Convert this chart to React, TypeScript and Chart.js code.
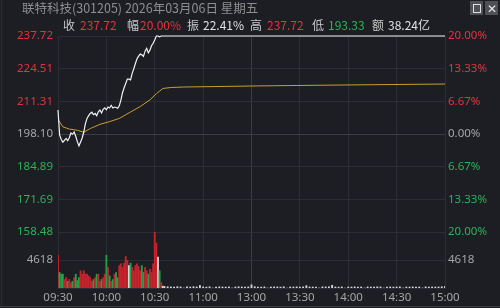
import React, { useEffect, useRef } from 'react';
import { Chart, registerables } from 'chart.js';

Chart.register(...registerables);

// ---------- data ----------
const timeLabels = ['09:30', '10:00', '10:30', '11:00', '13:00', '13:30', '14:00', '14:30', '15:00'];
const priceTicks = [237.72, 224.51, 211.31, 198.1, 184.89, 171.69, 158.48];
const pctTicks = [20, 13.33, 6.67, 0, -6.67, -13.33, -20];
const prevClose = 198.1;
const volTicks = [4618];
const volMax = 9236;

// minute prices 09:30 .. 10:35
const priceMinutes = [
  207.8, 197.7, 195.9, 194.8, 195.5, 196.3, 195.4, 196.6, 198.5, 198.0,
  198.9, 197.2, 195.0, 193.33, 194.9, 196.5, 198.9, 202.3, 204.4, 205.5,
  206.4, 206.9, 205.9, 206.4, 205.5, 207.1, 207.8, 206.6, 208.1, 208.7,
  207.9, 209.0, 208.6, 209.7, 208.6, 209.0, 208.8, 208.5, 209.5, 211.8,
  214.8, 216.8, 218.5, 220.3, 220.3, 220.0, 222.6, 224.5, 226.6, 228.5,
  229.6, 230.4, 230.1, 229.5, 231.6, 232.7, 230.9, 232.0, 233.8, 234.8,
  236.1, 237.72, 237.72, 237.4, 237.72, 237.72,
];
const closeMinute = 240;
const closePrice = 237.72;

const avgMinutes = [0, 3, 7, 12, 16, 20, 26, 32, 38, 45, 51, 57, 61, 65, 70, 78, 120, 160, 222, 240];
const avgPrices = [204.0, 201.0, 200.1, 199.6, 198.8, 200.3, 202.0, 203.1, 204.4, 207.0, 209.2, 211.9, 214.4, 216.5, 216.9, 217.1, 217.5, 217.8, 218.2, 218.3];

// minute volumes 09:30 .. 10:35
const volumes = [
  5400, 2560, 2300, 2280, 1400, 1700, 1100, 1400, 850, 1100,
  1700, 2280, 1250, 1700, 2850, 2280, 2850, 2280, 2280, 2000,
  1700, 1100, 1400, 1700, 2280, 2280, 1100, 1400, 1700, 2280,
  5400, 3400, 2000, 1100, 1400, 2280, 2560, 1700, 3700, 4000,
  3400, 4100, 5200, 4560, 3700, 4100, 3400, 2850, 3700, 4000,
  3550, 2850, 3700, 2560, 3400, 2850, 2280, 3100, 2560, 4000,
  9200, 7400, 5100, 2850, 900, 300,
];
// sealed at limit-up: sparse small volumes, every second minute from 10:36
const tailStart = 66;
const tailVolumes = [
  260, 200, 180, 150, 220, 170, 0, 190, 160, 210,
  180, 420, 170, 150, 200, 0, 170, 190, 160, 150,
  180, 0, 160, 200, 170, 150, 180, 520, 210, 170,
  150, 190, 0, 160, 180, 170, 150, 200, 0, 170,
  160, 190, 150, 180, 380, 170, 160, 150, 0, 190,
  170, 200, 450, 160, 150, 180, 0, 170, 160, 190,
  150, 170, 0, 180, 160, 150, 190, 170, 0, 160,
  180, 150, 170, 190, 0, 160, 150, 180, 170, 160,
  0, 190, 150, 170, 160, 180, 200, 260,
];

// ---------- style ----------
const BG = '#1c1e24';
const GRID = '#2b2e36';
const RED = '#e5343e';
const GREEN = '#2bb357';
const VRED = '#c8222c';
const VGREEN = '#23a04a';
const GREY = '#a6a6a6';
const WHITE = '#d8d8d8';
const FONT = 'Noto Sans';

function tickColorPrice(v: number) {
  if (Math.abs(v - prevClose) < 0.001) return GREY;
  return v > prevClose ? RED : GREEN;
}
function tickColorPct(v: number) {
  if (Math.abs(v) < 0.001) return GREY;
  return v > 0 ? RED : GREEN;
}

export default function App() {
  const ref = useRef<HTMLCanvasElement>(null);

  useEffect(() => {
    document.body.style.margin = '0';
    const canvas = ref.current;
    if (!canvas) return;

    const pricePts = priceMinutes.map((p, i) => ({ x: i, y: p }));
    pricePts.push({ x: closeMinute, y: closePrice });
    const avgPts = avgMinutes.map((m, i) => ({ x: m, y: avgPrices[i] }));
    const volPts = [
      ...volumes.map((v, i) => ({ x: i, y: v })),
      ...tailVolumes.map((v, i) => ({ x: tailStart + 2 * i, y: v })),
    ];
    const volColors = [
      ...volumes.map((_, i) => {
        const prev = i === 0 ? prevClose : priceMinutes[i - 1];
        const cur = priceMinutes[i];
        return cur > prev ? VRED : cur < prev ? VGREEN : WHITE;
      }),
      ...tailVolumes.map(() => WHITE),
    ];

    const font = { family: FONT, size: 11.5 };

    const chart = new Chart(canvas, {
      type: 'line',
      data: {
        datasets: [
          {
            type: 'bar',
            label: '成交量',
            data: volPts as any,
            backgroundColor: volColors,
            barThickness: 1.2,
            yAxisID: 'yv',
            xAxisID: 'x',
            order: 3,
          } as any,
          {
            type: 'line',
            label: '均价',
            data: avgPts as any,
            borderColor: '#c8a02c',
            borderWidth: 1,
            pointRadius: 0,
            tension: 0,
            yAxisID: 'y',
            xAxisID: 'x',
            order: 2,
          },
          {
            type: 'line',
            label: '价格',
            data: pricePts as any,
            borderColor: '#f2f2f2',
            borderWidth: 1.2,
            pointRadius: 0,
            tension: 0,
            yAxisID: 'y',
            xAxisID: 'x',
            clip: 4,
            order: 1,
          } as any,
        ],
      },
      options: {
        animation: false,
        responsive: false,
        maintainAspectRatio: false,
        parsing: false as any,
        layout: { padding: { top: 36, bottom: 0, left: 0, right: 0 } },
        plugins: { legend: { display: false }, tooltip: { enabled: false } },
        scales: {
          x: {
            type: 'linear',
            min: 0,
            max: 240,
            offset: false,
            position: 'bottom',
            afterBuildTicks: (s: any) => {
              s.ticks = timeLabels.map((_, i) => ({ value: i * 30 }));
            },
            afterFit: (s: any) => {
              s.height = 20;
            },
            ticks: {
              color: GREY,
              font,
              padding: 3,
              maxRotation: 0,
              autoSkip: false,
              callback: (v: any) => timeLabels[Math.round(Number(v) / 30)] ?? '',
            },
            grid: {
              offset: false,
              color: (c: any) => (c.tick && c.tick.value === 120 ? '#3a3d46' : GRID),
              drawTicks: false,
              lineWidth: 1,
            },
            border: { display: true, color: GRID },
          },
          yv: {
            type: 'linear',
            position: 'left',
            stack: 'left',
            stackWeight: 56,
            min: 0,
            max: volMax,
            afterBuildTicks: (s: any) => {
              s.ticks = volTicks.map((v) => ({ value: v }));
            },
            afterFit: (s: any) => {
              s.width = 58;
            },
            ticks: { font, padding: 5, color: GREY, callback: (v: any) => String(v) },
            grid: { color: GRID, drawTicks: false },
            border: { display: false },
          },
          y: {
            type: 'linear',
            position: 'left',
            stack: 'left',
            stackWeight: 196,
            min: 158.48,
            max: 237.72,
            afterBuildTicks: (s: any) => {
              s.ticks = priceTicks.map((v) => ({ value: v }));
            },
            afterFit: (s: any) => {
              s.width = 58;
            },
            ticks: {
              font,
              padding: 5,
              color: (c: any) => tickColorPrice(c.tick.value),
              callback: (v: any) => Number(v).toFixed(2),
            },
            grid: {
              color: (c: any) => (c.tick && Math.abs(c.tick.value - prevClose) < 0.001 ? '#3a3d46' : GRID),
              drawTicks: false,
            },
            border: { display: false },
          },
          yp: {
            type: 'linear',
            position: 'right',
            stack: 'right',
            stackWeight: 196,
            min: -20,
            max: 20,
            afterBuildTicks: (s: any) => {
              s.ticks = pctTicks.map((v) => ({ value: v }));
            },
            afterFit: (s: any) => {
              s.width = 55;
            },
            ticks: {
              font,
              padding: 3,
              color: (c: any) => tickColorPct(c.tick.value),
              callback: (v: any) => Math.abs(Number(v)).toFixed(2) + '%',
            },
            grid: { display: false, drawTicks: false },
            border: { display: false },
          },
          yv2: {
            type: 'linear',
            position: 'right',
            stack: 'right',
            stackWeight: 56,
            min: 0,
            max: volMax,
            afterBuildTicks: (s: any) => {
              s.ticks = volTicks.map((v) => ({ value: v }));
            },
            afterFit: (s: any) => {
              s.width = 55;
            },
            ticks: { font, padding: 3, color: GREY, callback: (v: any) => String(v) },
            grid: { display: false, drawTicks: false },
            border: { display: false },
          },
        },
      } as any,
    });
    return () => chart.destroy();
  }, []);

  const hdr = { position: 'absolute' as const, top: 17, fontSize: 12, lineHeight: '16px', whiteSpace: 'nowrap' as const };
  const lab = { ...hdr, color: '#c8c8c8' };
  const cjk = '"Noto Sans CJK SC", "Noto Sans", sans-serif';

  return (
    <div
      style={{
        position: 'relative',
        width: 500,
        height: 308,
        background: BG,
        overflow: 'hidden',
        fontFamily: cjk,
      }}
    >
      <canvas ref={ref} width={500} height={308} style={{ position: 'absolute', left: 0, top: 0, width: 500, height: 308 }} />
      <div style={{ position: 'absolute', left: 0, top: 306, width: 500, height: 1, background: '#3a3c42' }} />
      <div style={{ position: 'absolute', left: 1, top: 0, width: 1, height: 306, background: '#2c2e34' }} />
      <div style={{ position: 'absolute', left: 22, top: 0, fontSize: 12.5, lineHeight: '16px', color: '#8e8e8e', whiteSpace: 'nowrap' }}>
        联特科技(301205) 2026年03月06日 星期五
      </div>
      <div style={{ position: 'absolute', left: 470, top: 1, width: 13, height: 14, background: '#4f5055' }}>
        <div style={{ position: 'absolute', left: 3, top: 3, width: 6, height: 7, border: '1px solid #e0e0e0' }} />
      </div>
      <div style={{ position: 'absolute', left: 485, top: 1, width: 13, height: 14, background: '#4f5055', color: '#e8e8e8', fontSize: 12, lineHeight: '14px', textAlign: 'center' }}>
        ✕
      </div>
      <span style={{ ...lab, left: 63 }}>收</span>
      <span style={{ ...hdr, left: 80, color: RED }}>237.72</span>
      <span style={{ ...lab, left: 127 }}>幅</span>
      <span style={{ ...hdr, left: 140, color: RED }}>20.00%</span>
      <span style={{ ...lab, left: 187 }}>振</span>
      <span style={{ ...hdr, left: 203, color: '#e0e0e0' }}>22.41%</span>
      <span style={{ ...lab, left: 250 }}>高</span>
      <span style={{ ...hdr, left: 267, color: RED }}>237.72</span>
      <span style={{ ...lab, left: 312 }}>低</span>
      <span style={{ ...hdr, left: 328, color: GREEN }}>193.33</span>
      <span style={{ ...lab, left: 372 }}>额</span>
      <span style={{ ...hdr, left: 388, color: '#e0e0e0' }}>38.24亿</span>
    </div>
  );
}
